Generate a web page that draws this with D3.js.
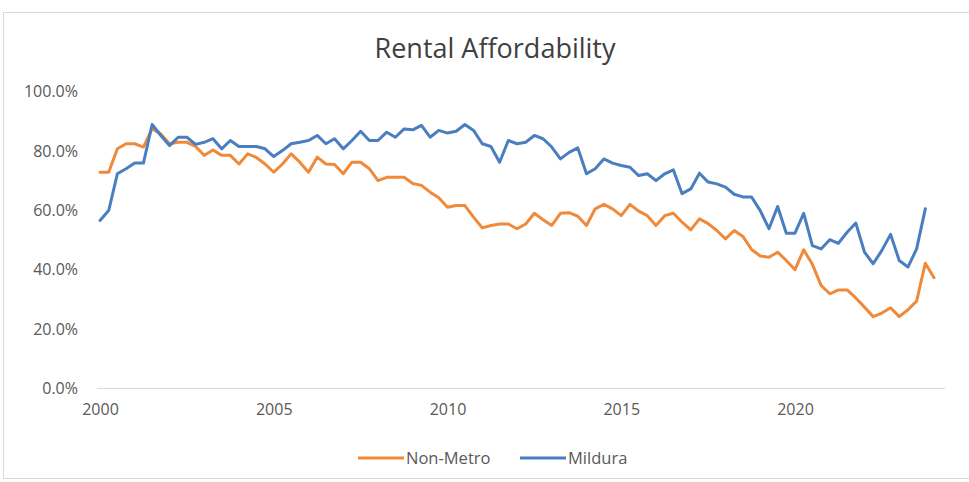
<!DOCTYPE html>
<html>
<head>
<meta charset="utf-8">
<script src="https://cdn.jsdelivr.net/npm/d3@7"></script>
<style>
  html, body { margin: 0; padding: 0; background: #fff; }
  svg { display: block; }
</style>
</head>
<body>
<svg id="chart" width="969" height="482"></svg>
<script>
const title = "Rental Affordability";
const startYear = 2000;            // first quarter of the series
const quartersPerYear = 4;
const xTickLabels = [2000, 2005, 2010, 2015, 2020];
const yTickValues = [0, 20, 40, 60, 80, 100];
const seriesNames = ["Non-Metro", "Mildura"];

const nonMetro = [
  72.8, 72.8, 80.7, 82.4, 82.4, 81.3, 87.5, 85.7, 82.4, 82.9,
  82.9, 81.5, 78.5, 80.3, 78.5, 78.5, 75.6, 79.0, 77.8, 75.6,
  72.8, 75.6, 79.0, 76.2, 72.8, 77.9, 75.6, 75.4, 72.3, 76.2,
  76.2, 74.0, 70.0, 71.1, 71.1, 71.1, 69.0, 68.4, 66.1, 64.2,
  61.0, 61.6, 61.6, 57.7, 54.1, 54.9, 55.4, 55.4, 53.8, 55.4,
  59.0, 56.8, 54.9, 59.0, 59.2, 58.0, 54.9, 60.5, 62.0, 60.5,
  58.2, 62.0, 59.7, 58.2, 54.9, 58.2, 59.0, 56.0, 53.4, 57.1,
  55.5, 53.2, 50.4, 53.2, 51.2, 46.8, 44.6, 44.2, 45.9, 43.1,
  40.0, 46.7, 41.8, 34.7, 31.9, 33.2, 33.2, 30.5, 27.4, 24.2,
  25.4, 27.2, 24.2, 26.5, 29.4, 42.2, 37.3
];

const mildura = [
  56.6, 59.9, 72.3, 74.0, 75.9, 75.9, 88.9, 85.2, 81.8, 84.6,
  84.6, 82.2, 82.9, 84.1, 80.7, 83.5, 81.5, 81.5, 81.5, 80.7,
  78.1, 80.1, 82.4, 82.9, 83.5, 85.2, 82.4, 84.1, 80.7, 83.5,
  86.6, 83.5, 83.5, 86.3, 84.6, 87.4, 87.1, 88.6, 84.6, 86.9,
  86.0, 86.6, 88.9, 86.9, 82.4, 81.5, 76.2, 83.5, 82.4, 82.9,
  85.2, 84.1, 81.3, 77.3, 79.5, 81.0, 72.3, 74.0, 77.3, 75.9,
  75.1, 74.5, 71.7, 72.3, 70.0, 72.3, 73.6, 65.6, 67.2, 72.5,
  69.5, 68.9, 67.8, 65.4, 64.5, 64.5, 59.9, 53.8, 61.3, 52.3,
  52.3, 59.0, 48.1, 47.0, 50.1, 48.9, 52.6, 55.7, 45.9, 42.0,
  46.5, 51.9, 43.1, 40.9, 47.0, 60.5
];

const colors = ["#F08A3A", "#4A7EBF"];
const svg = d3.select("#chart");
const W = 969, H = 482;
const FONT = "'Open Sans', 'Noto Sans', sans-serif";

// chart frame
svg.append("rect")
  .attr("x", 3.5).attr("y", 12.5)
  .attr("width", W + 10).attr("height", H - 16)
  .attr("fill", "#fff").attr("stroke", "#d9d9d9").attr("stroke-width", 1);

const x = d3.scaleLinear().domain([2000, 2020]).range([100, 795]);
const y = d3.scaleLinear().domain([0, 100]).range([388.5, 91.5]);
const xEnd = 945;

svg.append("text")
  .attr("x", 495).attr("y", 58)
  .attr("text-anchor", "middle")
  .attr("font-family", FONT)
  .attr("font-size", 27)
  .attr("fill", "#404040")
  .text(title);

// y axis labels (no axis line)
const yAxis = d3.axisLeft(y).tickValues(yTickValues)
  .tickSize(0).tickPadding(0)
  .tickFormat(d => d3.format(".1f")(d) + "%");
const yG = svg.append("g").attr("transform", "translate(78,0)").call(yAxis);
yG.select(".domain").remove();
yG.selectAll("text")
  .attr("font-family", FONT)
  .attr("font-size", 16).attr("fill", "#595959");

// x axis
const xAxis = d3.axisBottom(x).tickValues(xTickLabels)
  .tickSize(0).tickPadding(15).tickFormat(d3.format("d"));
const xG = svg.append("g").attr("transform", "translate(0,388.5)").call(xAxis);
xG.select(".domain").remove();
xG.selectAll("text")
  .attr("font-family", FONT)
  .attr("font-size", 16).attr("fill", "#595959");
svg.append("line")
  .attr("x1", 97).attr("x2", xEnd)
  .attr("y1", 388.5).attr("y2", 388.5)
  .attr("stroke", "#d9d9d9").attr("stroke-width", 1);

const t = i => startYear + i / quartersPerYear;
const line = d3.line().x((d, i) => x(t(i))).y(d => y(d));

[nonMetro, mildura].forEach((s, k) => {
  svg.append("path")
    .datum(s)
    .attr("d", line)
    .attr("fill", "none")
    .attr("stroke", colors[k])
    .attr("stroke-width", 3)
    .attr("stroke-linejoin", "round")
    .attr("stroke-linecap", "round");
});

// legend
const legendItems = [
  { name: seriesNames[0], color: colors[0], x: 358 },
  { name: seriesNames[1], color: colors[1], x: 520 }
];
legendItems.forEach(it => {
  svg.append("line")
    .attr("x1", it.x).attr("x2", it.x + 46)
    .attr("y1", 458).attr("y2", 458)
    .attr("stroke", it.color).attr("stroke-width", 3);
  svg.append("text")
    .attr("x", it.x + 48).attr("y", 458)
    .attr("dy", "0.35em")
    .attr("font-family", FONT)
    .attr("font-size", 16.5).attr("fill", "#595959")
    .text(it.name);
});
</script>
</body>
</html>
